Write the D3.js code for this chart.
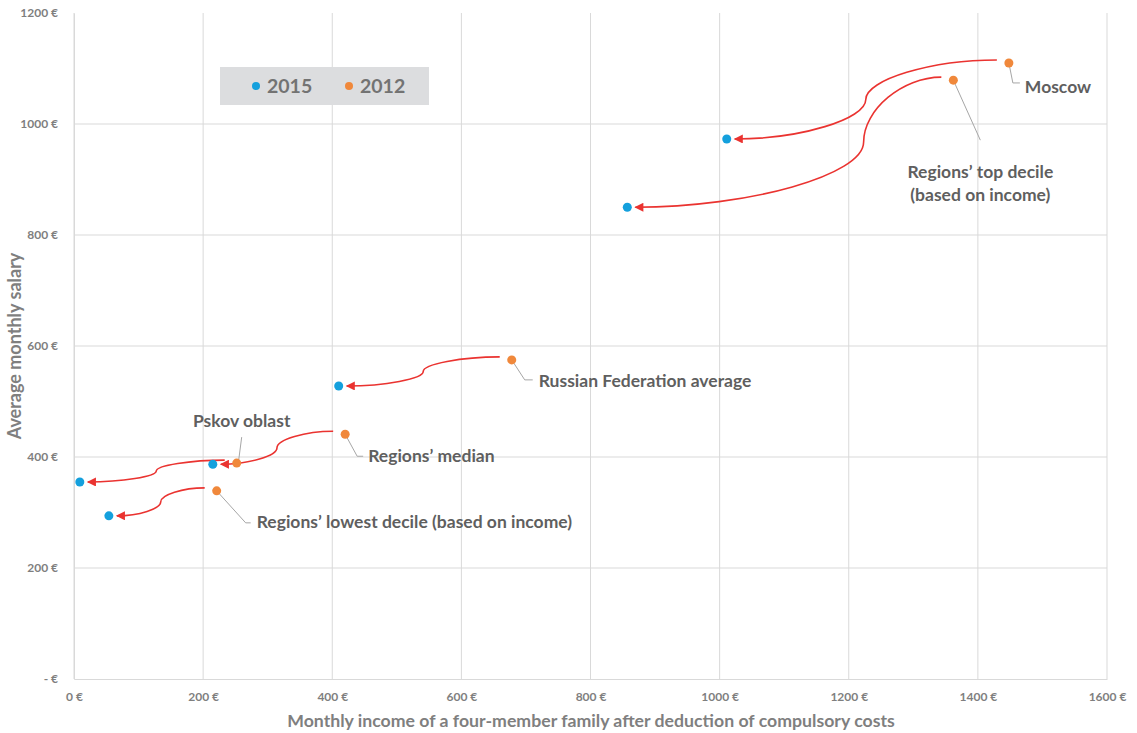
<!DOCTYPE html>
<html>
<head>
<meta charset="utf-8">
<script src="https://cdn.jsdelivr.net/npm/d3@7"></script>
<style>
  body { margin: 0; background: #fff; }
  text { font-family: Lato, "Open Sans", sans-serif; font-weight: bold; }
</style>
</head>
<body>
<div id="container"></div>
<script>
const names = ['Moscow', 'Regions’ top decile', 'Russian Federation average', 'Regions’ median', 'Pskov oblast', 'Regions’ lowest decile (based on income)'];
const income2012 = [1448, 1362, 678, 420, 252, 221];
const salary2012 = [1110, 1079, 575, 441, 389, 339];
const income2015 = [1011, 857, 410, 215, 9, 54];
const salary2015 = [973, 850, 528, 387, 355, 294];
const xTicks = [0, 200, 400, 600, 800, 1000, 1200, 1400, 1600];
const yTicks = [0, 200, 400, 600, 800, 1000, 1200];
const seriesNames = ['2015', '2012'];
// arrows go from a 2012 point to a 2015 point (index into the arrays above)
const arrowFrom = [0, 1, 2, 3, 4, 5];
const arrowTo = [0, 1, 2, 3, 4, 5];
const arrowBend = [null, 1223, null, null, null, null];

const W = 1137, H = 733;
const margin = { top: 13, right: 30, bottom: 54, left: 74 };
const width = W - margin.left - margin.right;
const height = H - margin.top - margin.bottom;

const blue = '#14a0dd', orange = '#f0883b', red = '#ea3330';
const gridCol = '#d9d9d9', tickCol = '#7f7f7f', labelCol = '#5f5f5f';

const svg = d3.select('#container')
    .append('svg')
    .attr('width', W)
    .attr('height', H);

const g = svg.append('g')
    .attr('transform', `translate(${margin.left}, ${margin.top})`);

const x = d3.scaleLinear().domain([0, 1600]).range([0, width]);
const y = d3.scaleLinear().domain([0, 1200]).range([height, 0]);

// grid
g.append('g').selectAll('line')
    .data(xTicks)
    .join('line')
    .attr('x1', d => x(d)).attr('x2', d => x(d))
    .attr('y1', 0).attr('y2', height)
    .attr('stroke', gridCol);

g.append('g').selectAll('line')
    .data(yTicks.filter(d => d > 0 && d < 1200))
    .join('line')
    .attr('x1', 0).attr('x2', width)
    .attr('y1', d => y(d)).attr('y2', d => y(d))
    .attr('stroke', gridCol);

const xAxis = g.append('g')
    .attr('transform', `translate(0, ${height})`)
    .call(d3.axisBottom(x).tickValues(xTicks).tickSize(0).tickPadding(13).tickFormat(d => `${d} €`));
const yAxis = g.append('g')
    .call(d3.axisLeft(y).tickValues(yTicks).tickSize(0).tickPadding(16).tickFormat(d => d === 0 ? '- €' : `${d} €`));

[xAxis, yAxis].forEach(a => {
    a.select('.domain').attr('stroke', gridCol);
    a.selectAll('text').attr('fill', tickCol).style('font-size', '12px')
        .style('font-family', 'Lato, sans-serif').style('font-weight', 'bold');
});

svg.append('text')
    .attr('x', 591).attr('y', 727)
    .attr('text-anchor', 'middle')
    .attr('fill', tickCol).style('font-size', '17.7px')
    .text('Monthly income of a four-member family after deduction of compulsory costs');

svg.append('text')
    .attr('transform', `translate(21, 346) rotate(-90)`)
    .attr('text-anchor', 'middle')
    .attr('fill', tickCol).style('font-size', '18px')
    .text('Average monthly salary');

// legend
const legend = svg.append('g');
legend.append('rect')
    .attr('x', 220).attr('y', 67).attr('width', 209).attr('height', 38)
    .attr('fill', '#dcdddf');
seriesNames.forEach((s, i) => {
    const lx = 256 + i * 93;
    legend.append('circle').attr('cx', lx).attr('cy', 86).attr('r', 4)
        .attr('fill', i === 0 ? blue : orange);
    legend.append('text').attr('x', lx + 11).attr('y', 93)
        .attr('fill', '#737373').style('font-size', '19.5px').text(s);
});

// arrows
svg.append('defs').append('marker')
    .attr('id', 'head')
    .attr('markerUnits', 'userSpaceOnUse')
    .attr('viewBox', '0 0 10 10')
    .attr('refX', 9).attr('refY', 5)
    .attr('markerWidth', 11).attr('markerHeight', 9)
    .attr('orient', 'auto')
    .append('path')
    .attr('d', 'M0,0 L10,5 L0,10 Z')
    .attr('fill', red);

const arrowPath = (i) => {
    const a = arrowFrom[i], b = arrowTo[i];
    const sx = x(income2012[a]) - 12, sy = y(salary2012[a]) - 3;
    const ex = x(income2015[b]) + 8, ey = y(salary2015[b]);
    const bx = arrowBend[i] === null ? (sx + ex) / 2 : x(arrowBend[i]);
    const my = (sy + ey) / 2;
    return `M${sx},${sy} C${(sx + bx) / 2},${sy} ${bx},${sy + (ey - sy) / 4} ${bx},${my}` +
        ` C${bx},${sy + 3 * (ey - sy) / 4} ${(bx + ex) / 2},${ey} ${ex},${ey}`;
};

g.append('g').selectAll('path')
    .data(arrowFrom.map((_, i) => i))
    .join('path')
    .attr('d', i => arrowPath(i))
    .attr('fill', 'none')
    .attr('stroke', red)
    .attr('stroke-width', 1.6)
    .attr('marker-end', 'url(#head)');

// leader lines and labels (offsets in px from the 2012 point)
const leaders = [
    { pts: [[0, 0], [4, 20], [11, 20]], tx: 16, ty: 30, anchor: 'start' },
    { pts: [[0, 0], [27, 60]], tx: 27, ty: 98, anchor: 'middle', split: true },
    { pts: [[0, 0], [13, 20], [21, 20]], tx: 27, ty: 27, anchor: 'start' },
    { pts: [[0, 0], [12, 22], [18, 22]], tx: 23, ty: 28, anchor: 'start' },
    { pts: [[2, -3], [5, -26]], tx: 5, ty: -36, anchor: 'middle' },
    { pts: [[0, 0], [29, 32], [34, 32]], tx: 40, ty: 37, anchor: 'start' }
];

leaders.forEach((l, i) => {
    const px = x(income2012[i]), py = y(salary2012[i]);
    g.append('polyline')
        .attr('points', l.pts.map(p => `${px + p[0]},${py + p[1]}`).join(' '))
        .attr('fill', 'none').attr('stroke', '#a6a6a6').attr('stroke-width', 1);
    const lines = l.split ? [names[i], '(based on income)'] : [names[i]];
    lines.forEach((txt, k) => {
        g.append('text')
            .attr('x', px + l.tx).attr('y', py + l.ty + k * 23)
            .attr('text-anchor', l.anchor)
            .attr('fill', labelCol).style('font-size', '17.5px')
            .text(txt);
    });
});

// points
g.append('g').selectAll('circle')
    .data(names.map((_, i) => i))
    .join('circle')
    .attr('cx', i => x(income2012[i]))
    .attr('cy', i => y(salary2012[i]))
    .attr('r', 4.5)
    .attr('fill', orange);

g.append('g').selectAll('circle')
    .data(names.map((_, i) => i))
    .join('circle')
    .attr('cx', i => x(income2015[i]))
    .attr('cy', i => y(salary2015[i]))
    .attr('r', 4.5)
    .attr('fill', blue);
</script>
</body>
</html>
